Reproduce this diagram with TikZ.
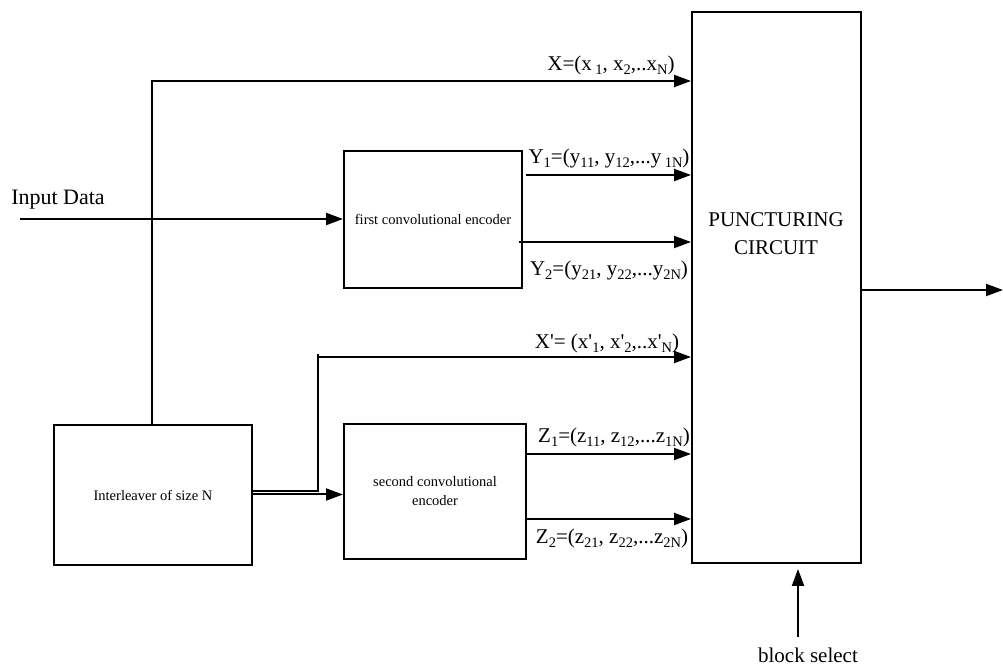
\documentclass[tikz,border=0pt]{standalone}
\usepackage{fontspec}
\setmainfont{Liberation Serif}
\usetikzlibrary{arrows.meta}
\newcommand\sbs[1]{\raisebox{-4.5pt}{\fontsize{14.5}{14.5}\selectfont #1}}
\begin{document}
\begin{tikzpicture}[x=1pt,y=1pt,
  box/.style={draw, line width=2pt, inner sep=0pt},
  arr/.style={line width=2pt, -{Triangle[length=17pt,width=12pt]}},
  ln/.style={line width=2pt},
  big/.style={font=\fontsize{21}{28}\selectfont, inner sep=0pt},
  small/.style={font=\fontsize{14.5}{19}\selectfont, align=center}]
\useasboundingbox (0,0) rectangle (1003,666);
% boxes
\node[box, minimum width=169pt, minimum height=551pt] (punct) at (776.5,378.5) {};
\node[big, align=center] (pctext) at (776,432) {PUNCTURING\\CIRCUIT};
\node[box, small, minimum width=178pt, minimum height=137pt] (enc1) at (433,446.5) {first convolutional encoder};
\node[box, small, minimum width=182pt, minimum height=135pt] (enc2) at (435,174.5) {second convolutional\\encoder};
\node[box, small, minimum width=198pt, minimum height=140pt] (inter) at (153,171) {Interleaver of size N};
% coordinates
\coordinate (in) at (20,447);
\coordinate (xin) at (152,585);
\coordinate (y1s) at (526,491);
\coordinate (y2s) at (519,424);
\coordinate (sp) at (318,174.5);
\coordinate (xp) at (318,312);
\coordinate (xps) at (318,309);
\coordinate (e2in) at (318,171.5);
\coordinate (z1s) at (526,212);
\coordinate (z2s) at (526,147);
\coordinate (out) at (1003,376);
\coordinate (bs) at (798,29);
% connectors
\draw[arr] (in) -- (enc1.west|-in);
\draw[arr] (inter.north-|xin) -- (xin) -- (punct.west|-xin);
\draw[arr] (y1s) -- (punct.west|-y1s);
\draw[arr] (y2s) -- (punct.west|-y2s);
\draw[ln] (inter.east|-sp) -- (sp) -- (xp);
\draw[arr] (xps) -- (punct.west|-xps);
\draw[arr] (inter.east|-e2in) -- (enc2.west|-e2in);
\draw[arr] (z1s) -- (punct.west|-z1s);
\draw[arr] (z2s) -- (punct.west|-z2s);
\draw[arr] (punct.east|-out) -- (out);
\draw[arr] (bs) -- ([yshift=-5pt]punct.south-|bs);
% labels
\node[big, font=\fontsize{22}{28}\selectfont] (inlbl) at (58,466) {Input Data};
\node[big, anchor=base] (bslbl) at (808,3) {block select};
\node[big] (xl) at (611,601) {X=(x\,\sbs{1}, x\sbs{2},..x\sbs{N})};
\node[big] (y1l) at (609,508) {Y\sbs{1}=(y\sbs{11}, y\sbs{12},...y\,\sbs{1N})};
\node[big] (y2l) at (609,396) {Y\sbs{2}=(y\sbs{21}, y\sbs{22},...y\sbs{2N})};
\node[big] (xpl) at (607,323) {X\textquotesingle= (x\textquotesingle\sbs{1}, x\textquotesingle\sbs{2},..x\textquotesingle\sbs{N})};
\node[big] (z1l) at (614,229) {Z\sbs{1}=(z\sbs{11}, z\sbs{12},...z\sbs{1N})};
\node[big] (z2l) at (612,128) {Z\sbs{2}=(z\sbs{21}, z\sbs{22},...z\sbs{2N})};
\end{tikzpicture}
\end{document}
